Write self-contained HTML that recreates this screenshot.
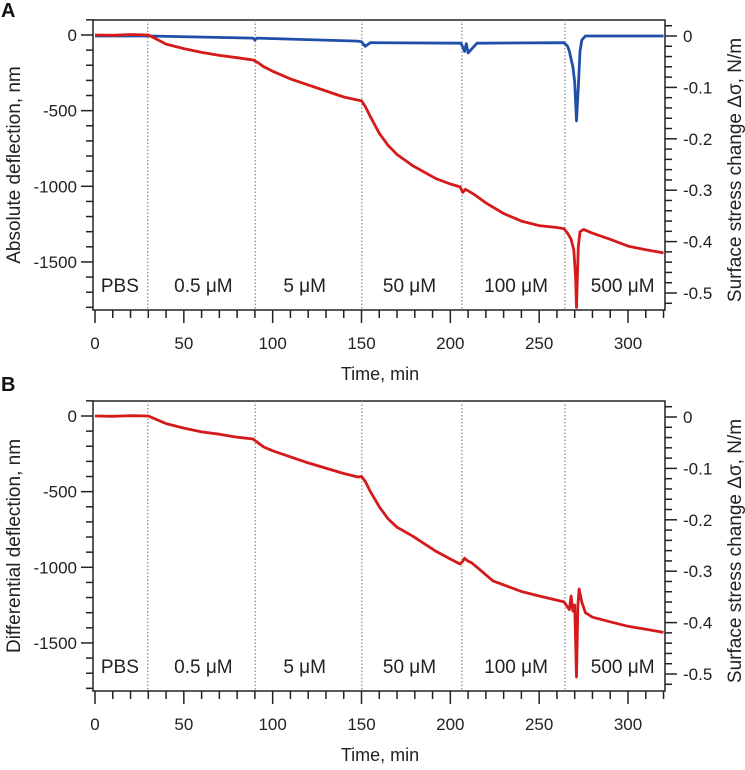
<!DOCTYPE html>
<html><head><meta charset="utf-8"><style>
html,body{margin:0;padding:0;background:#fff;}
svg{display:block;font-family:"Liberation Sans",Arial,sans-serif;}
</style></head><body>
<svg id="chart" width="745" height="770" viewBox="0 0 745 770" xmlns="http://www.w3.org/2000/svg"></svg>
<script>
// ---- data ----
const topRedT = [0,10,20,30,35,40,50,60,70,80,89,92,95,100,110,120,130,140,148,150,152,155,160,165,170,179,192,200,205.5,207,208.5,210,213,220,230,240,250,260,264,266,268,269.5,270.5,271,271.5,272,273,275,280,290,300,310,320];
const topRedV = [0,-2,3,0,-30,-60,-90,-115,-135,-150,-165,-185,-210,-240,-290,-330,-370,-410,-430,-435,-470,-540,-650,-730,-790,-865,-950,-985,-1004,-1040,-1020,-1030,-1050,-1110,-1180,-1230,-1260,-1272,-1280,-1310,-1350,-1420,-1600,-1800,-1600,-1400,-1300,-1285,-1310,-1350,-1395,-1420,-1440];
const topBlueT = [0,30,89,90,91,148,150,152,155,206,207,208,209,210,212,215,264,266,267,268,269,270,271,272,273,274,276,320];
const topBlueV = [0,0,-0.004,-0.008,-0.004,-0.01,-0.011,-0.02,-0.013,-0.014,-0.022,-0.03,-0.015,-0.033,-0.025,-0.014,-0.013,-0.02,-0.03,-0.045,-0.06,-0.09,-0.165,-0.1,-0.03,-0.008,0,0];
const botRedT = [0,10,20,30,35,40,50,60,70,80,89,92,95,100,120,140,148,150,152,155,160,165,170,179,192,200,205.5,207,208,210,212,216,224,240,250,264,267,268,269,270,271,271.8,272.5,274,276,280,290,300,310,320];
const botRedV = [0,-2,2,0,-25,-50,-80,-105,-120,-140,-152,-180,-205,-230,-310,-380,-403,-400,-430,-500,-600,-680,-735,-795,-895,-945,-978,-960,-940,-960,-970,-1010,-1090,-1160,-1190,-1229,-1280,-1190,-1290,-1250,-1725,-1250,-1143,-1230,-1300,-1330,-1360,-1390,-1410,-1430];
const xTicks = [0,50,100,150,200,250,300];
const leftTicks = [0,-500,-1000,-1500];
const rightTicks = [0,-0.1,-0.2,-0.3,-0.4,-0.5];
const rightTickLabels = ["0","-0.1","-0.2","-0.3","-0.4","-0.5"];
const changeTimes = [29.7,90.2,150.2,206.5,264.5];
const regionLabels = ["PBS","0.5 \u03BCM","5 \u03BCM","50 \u03BCM","100 \u03BCM","500 \u03BCM"];
const regionCenters = [14,61,118,177,237,297];

const svg = document.getElementById('chart');
const NS = 'http://www.w3.org/2000/svg';
function mk(tag, attrs, parent){const e=document.createElementNS(NS,tag);for(const k in attrs)e.setAttribute(k,attrs[k]);(parent||svg).appendChild(e);return e;}
const L=93, R=665;
const sx = t => 95 + t*(533/300);

function panel(dy, letter, yTitle, series){
  const g = mk('g',{});
  
  
  const top=20+dy, bot=310+dy;
  const syL = v => 35+dy - v*0.1513;
  const syR = v => 36+dy - v*514;
  const box = mk('rect',{x:L,y:top,width:R-L,height:bot-top,fill:'none',stroke:'#222','stroke-width':1.5},g);
  
  
  changeTimes.forEach(t=>{
    const l=mk('line',{x1:sx(t),x2:sx(t),y1:top,y2:bot,stroke:'#888','stroke-width':1.2,'stroke-dasharray':'1.5,2'},g);
    
    
  });
  for(let t=0;t<=320;t+=10){
    const major = t%50===0;
    mk('line',{x1:sx(t),x2:sx(t),y1:bot,y2:bot+(major?13:8),stroke:'#222','stroke-width':1.5},g);
  }
  xTicks.forEach(t=>{
    const tx=mk('text',{x:sx(t),y:bot+39,'font-size':17,'text-anchor':'middle',fill:'#222'},g);
    tx.textContent=t;
    
    
  });
  for(let v=0;v>=-1800;v-=100){
    const major=v%500===0;
    mk('line',{x1:L,x2:L-(major?12:7),y1:syL(v),y2:syL(v),stroke:'#222','stroke-width':1.5},g);
  }
  mk('line',{x1:L,x2:L-7,y1:syL(100),y2:syL(100),stroke:'#222','stroke-width':1.5},g);
  leftTicks.forEach(v=>{
    const tx=mk('text',{x:77,y:syL(v)+6,'font-size':17,'text-anchor':'end',fill:'#222'},g);
    tx.textContent=v;
    
    
  });
  for(let i=1;i>=-26;i--){
    const v=i*0.02;
    const major=(i%5===0);
    mk('line',{x1:R,x2:R+(major?12:7),y1:syR(v),y2:syR(v),stroke:'#222','stroke-width':1.5},g);
  }
  rightTicks.forEach((v,i)=>{
    const tx=mk('text',{x:683,y:syR(v)+6,'font-size':17,fill:'#222'},g);
    tx.textContent=rightTickLabels[i];
    
    
  });
  regionLabels.forEach((s,i)=>{
    const tx=mk('text',{x:sx(regionCenters[i]),y:bot-18,'font-size':19,'text-anchor':'middle',fill:'#222'},g);
    tx.textContent=s;
    
    
  });
  series.forEach(s=>{
    const sy = s.axis==='left'?syL:syR;
    const pts = s.t.map((t,i)=>sx(t).toFixed(1)+','+sy(s.v[i]).toFixed(1)).join(' ');
    const p=mk('polyline',{points:pts,fill:'none',stroke:s.color,'stroke-width':2.8,'stroke-linejoin':'round'},g);
    
    
  });
  const xt=mk('text',{x:380,y:bot+70,'font-size':18,'text-anchor':'middle',fill:'#222'},g);
  xt.textContent='Time, min';
  
  
  const ly=(top+bot)/2;
  const yt=mk('text',{x:0,y:0,'font-size':19,'text-anchor':'middle',fill:'#222',transform:'translate(20,'+ly+') rotate(-90)'},g);
  yt.textContent=yTitle;
  
  
  const rt=mk('text',{x:0,y:0,'font-size':19,'text-anchor':'middle',fill:'#222',transform:'translate(741,'+(ly+5)+') rotate(-90)'},g);
  rt.textContent='Surface stress change \u0394\u03C3, N/m';
  
  
  const lt=mk('text',{x:1,y:dy?391:17,'font-size':20,'font-weight':'bold',fill:'#111'},g);
  lt.textContent=letter;
  
  
}
panel(0,'A','Absolute deflection, nm',[
  {t:topBlueT,v:topBlueV,axis:'right',color:'#1f4fa8',name:'surface-stress-line'},
  {t:topRedT,v:topRedV,axis:'left',color:'#d41a1a',name:'absolute-deflection-line'}
]);
panel(381,'B','Differential deflection, nm',[
  {t:botRedT,v:botRedV,axis:'left',color:'#d41a1a',name:'differential-deflection-line'}
]);
</script>
</body></html>
